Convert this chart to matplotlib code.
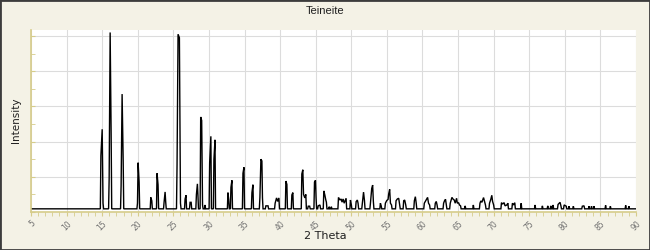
import matplotlib
matplotlib.use("Agg")
import matplotlib.pyplot as plt
from matplotlib.patches import Rectangle
from matplotlib.ticker import MultipleLocator

# peak apex points (2 theta, intensity)
two_theta = [
    14.82, 15.00, 15.12,
    15.98, 16.12, 16.26,
    17.66, 17.80, 17.95,
    19.96, 20.05, 20.19,
    21.83, 21.97,
    22.71, 22.85,
    23.70, 23.84, 23.92,
    25.52, 25.66, 25.85, 26.00,
    26.65, 26.78,
    27.35, 27.50,
    28.24, 28.38, 28.45,
    28.84, 28.98, 29.10, 29.45,
    30.10, 30.27,
    30.70, 30.85,
    32.67, 32.78,
    33.09, 33.23,
    34.78, 34.92,
    36.04, 36.18,
    37.16, 37.30, 37.44, 37.52,
    38.00, 38.30,
    39.30, 39.50, 39.66, 39.83,
    40.81, 40.95,
    41.65, 41.79,
    43.05, 43.19, 43.29, 43.47, 43.61,
    43.95, 44.15,
    44.83, 44.97, 45.05,
    45.35, 45.60,
    46.14, 46.28, 46.42, 46.50,
    46.90, 47.20,
    48.20, 48.40, 48.57, 48.70, 48.85, 49.00, 49.27,
    49.88, 50.00,
    50.68, 50.85, 50.95,
    51.55, 51.72, 51.85,
    52.69, 52.87, 53.00, 53.10,
    54.09, 54.20,
    54.79, 54.98, 55.17, 55.25, 55.39, 55.50, 55.65,
    56.29, 56.47, 56.66, 56.80,
    57.36, 57.50, 57.65,
    58.86, 59.00, 59.12,
    60.26, 60.45, 60.59, 60.72, 60.85, 61.00,
    61.80, 61.94, 62.05,
    62.97, 63.10, 63.24, 63.35,
    63.90, 64.14, 64.28, 64.46, 64.60, 64.79, 64.90, 65.07, 65.20, 65.35,
    66.00,
    67.15,
    68.08, 68.20, 68.35, 68.58, 68.70, 68.85,
    69.42, 69.60, 69.74, 69.85, 70.00,
    71.10, 71.25, 71.47, 71.60,
    71.85, 72.00,
    72.64, 72.80, 72.97,
    73.87,
    75.82,
    76.85,
    77.60,
    78.03, 78.35,
    79.05, 79.33, 79.45,
    79.90,
    80.20, 80.60, 81.20,
    82.46, 82.70,
    83.40, 83.75, 84.10,
    85.73,
    86.40,
    88.55,
    89.00,
]
intensity = [
    32, 47, 5,
    19, 102, 44,
    15, 67, 29.5,
    5, 28, 17,
    8.3, 6.4,
    22, 15.5,
    5.7, 11.4, 6,
    27, 101, 99, 5,
    7.4, 9.5,
    5.5, 5.5,
    10, 16, 10,
    54, 52, 4, 4,
    28, 43,
    30, 41,
    11, 7,
    14, 18,
    22, 25.4,
    11, 15.5,
    8.3, 30, 29, 8,
    3.5, 3.5,
    5, 8, 6, 8,
    17.6, 15.7,
    9.7, 11,
    21.6, 24, 10, 8, 10,
    3.3, 3.3,
    17, 18, 8,
    3.5, 4,
    12, 9.7, 6.8, 5.6,
    3, 3,
    8.3, 6.8, 7.4, 5.6, 7.4, 5, 7.8,
    6.8, 4.3,
    5.9, 6.8, 5,
    5, 11.3, 6.5,
    5, 13.4, 15.3, 6,
    5, 3.5,
    5, 6.5, 7.2, 10.2, 12.9, 5, 4,
    6.4, 7.4, 7.8, 4,
    6.4, 6.8, 4,
    6.4, 8.7, 5,
    5, 6.4, 7.4, 8.3, 5, 4,
    5, 6, 4,
    5, 6.4, 7.2, 4,
    5, 8.3, 7.4, 6.8, 5, 7.8, 5, 5.3, 4, 3.5,
    3.5,
    4,
    5, 6.3, 5.5, 8.2, 6.3, 4,
    5, 7.2, 9.5, 6, 4,
    5.3, 4.5, 5.3, 3.5,
    4, 5,
    5, 4, 5.3,
    5,
    4,
    3.5,
    3.5,
    3.5, 4,
    4.3, 5.5, 3.5,
    4,
    3.3, 3.3, 3.3,
    3.3, 3.5,
    3.3, 3.3, 3.3,
    3.8,
    3.3,
    3.8,
    3.3,
]
baseline = 1.8
x_start, x_end = 5, 90

# build the trace: drop back to the baseline between separated peaks
xs, ys = [x_start], [baseline]
prev = None
for t, v in zip(two_theta, intensity):
    if prev is None or t - prev > 0.3:
        if prev is not None:
            xs.append(prev + 0.08)
            ys.append(baseline)
        xs.append(t - 0.08)
        ys.append(baseline)
    xs.append(t)
    ys.append(v)
    prev = t
xs += [prev + 0.08, x_end]
ys += [baseline, baseline]

bg = "#f4f2e6"
tick_col = "#d6cc8a"

fig = plt.figure(figsize=(6.5, 2.5), dpi=100, facecolor=bg)
ax = fig.add_axes([31 / 650, 38 / 250, 605 / 650, 182 / 250])
ax.set_facecolor("white")
ax.plot(xs, ys, color="black", lw=1.0, solid_joinstyle="miter")

ax.set_xlim(x_start, x_end)
ax.set_ylim(0, 103.4)
ax.xaxis.set_major_locator(MultipleLocator(5))
ax.xaxis.set_minor_locator(MultipleLocator(1))
ax.yaxis.set_major_locator(MultipleLocator(20))
ax.yaxis.set_minor_locator(MultipleLocator(10))
ax.grid(True, which="major", color="#dcdcdc", lw=0.8)
ax.set_axisbelow(True)

for side in ["top", "right"]:
    ax.spines[side].set_visible(False)
for side in ["left", "bottom"]:
    ax.spines[side].set_color(tick_col)
    ax.spines[side].set_linewidth(1.2)

ax.tick_params(axis="x", which="both", direction="out", length=3, color=tick_col,
               labelsize=5.5, labelcolor="#707070", pad=2)
ax.tick_params(axis="y", which="both", direction="in", length=3, color=tick_col,
               labelleft=False)
for lbl in ax.get_xticklabels():
    lbl.set_rotation(45)
    lbl.set_ha("right")
    lbl.set_va("top")
    lbl.set_rotation_mode("anchor")

fig.text(0.5, 0.958, "Teineite", ha="center", va="center", fontsize=8,
         family="Liberation Sans", color="#202020")
fig.text(0.5, 0.055, "2 Theta", ha="center", va="center", fontsize=8, color="#202020")
fig.text(0.024, 0.52, "Intensity", ha="center", va="center", rotation=90,
         fontsize=7.5, color="#202020")

fig.patches.append(Rectangle((0, 0), 1, 1, transform=fig.transFigure, fill=False,
                             edgecolor="#3c3c3c", lw=2.0))

fig.savefig("out.png", dpi=100, facecolor=bg)
